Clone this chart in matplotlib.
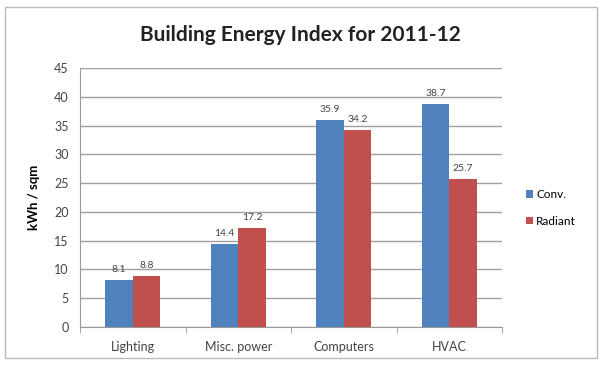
import matplotlib.pyplot as plt
import numpy as np
from matplotlib.patches import Rectangle

plt.rcParams['font.family'] = ['Lato', 'DejaVu Sans']

categories = ['Lighting', 'Misc. power', 'Computers', 'HVAC']
conv = [8.1, 14.4, 35.9, 38.7]
radiant = [8.8, 17.2, 34.2, 25.7]

blue = '#4F81BD'
red = '#C0504D'

fig = plt.figure(figsize=(6, 3.66), dpi=100)
fig.patches.append(Rectangle((5 / 600, 1 - 358 / 366), 592 / 600, 351 / 366,
                             transform=fig.transFigure, fill=False,
                             edgecolor='#BBBBBB', linewidth=1))
ax = fig.add_axes([80 / 600, 1 - 327 / 366, 422 / 600, 259 / 366])

x = np.arange(len(categories))
w = 0.26
b1 = ax.bar(x - w / 2, conv, w, color=blue, label='Conv.', zorder=3)
b2 = ax.bar(x + w / 2, radiant, w, color=red, label='Radiant', zorder=3)

# value labels above each bar
for bars, vals in ((b1, conv), (b2, radiant)):
    for bar, v in zip(bars, vals):
        ax.text(bar.get_x() + bar.get_width() / 2, v + 1.1, f'{v:.1f}',
                ha='center', va='bottom', fontsize=7.5, color='#444444')

ax.set_xlim(-0.5, 3.5)
ax.set_ylim(0, 45)
ax.set_yticks(range(0, 46, 5))
ax.set_xticks(x)
ax.set_xticklabels(categories)
ax.set_xticks(np.arange(-0.5, 4, 1), minor=True)
ax.tick_params(axis='x', which='major', length=0, pad=10, labelsize=9, colors='#444444')
ax.tick_params(axis='x', which='minor', length=4, color='#999999')
ax.tick_params(axis='y', length=0, pad=8, labelsize=9, colors='#444444')
ax.grid(axis='y', color='#A0A0A0', linewidth=1, zorder=0)

for s in ('top', 'right'):
    ax.spines[s].set_visible(False)
ax.spines['left'].set_color('#999999')
ax.spines['bottom'].set_color('#999999')

ax.set_ylabel('kWh / sqm', fontsize=9.5, fontweight='bold', labelpad=10)
fig.text(0.5, 1 - 35 / 366, 'Building Energy Index for 2011-12', ha='center',
         va='center', fontsize=15, fontweight='bold', color='#222222')

fig.legend(loc='center left', bbox_to_anchor=(515 / 600, 1 - 208 / 366),
           frameon=False, fontsize=8.5, handlelength=0.6, handleheight=0.6,
           handletextpad=0.3, labelspacing=1.3)

fig.savefig('out.png', dpi=100)
